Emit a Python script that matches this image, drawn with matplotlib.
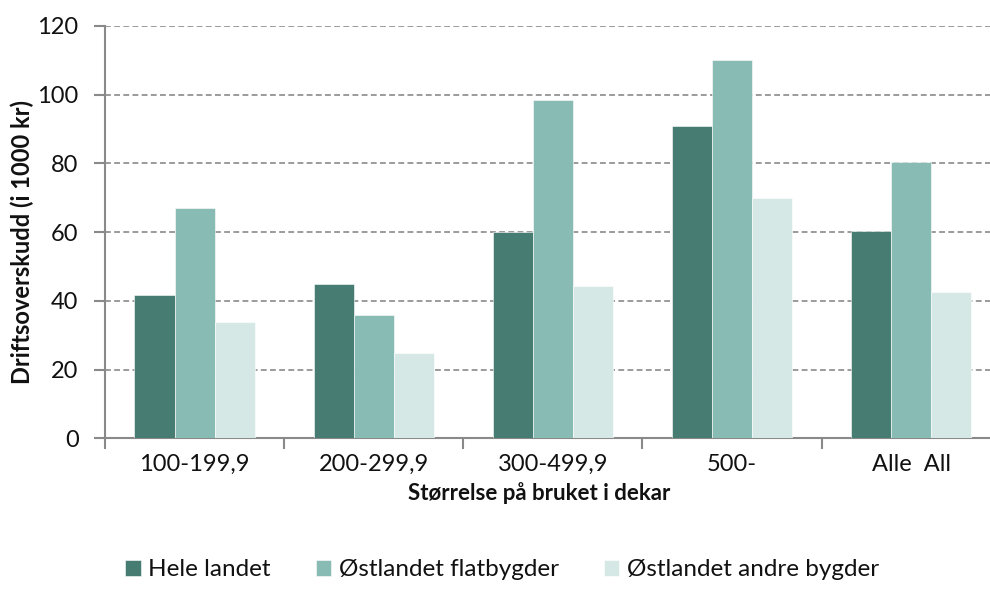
import matplotlib
matplotlib.use("Agg")
import matplotlib.pyplot as plt
import numpy as np

categories = ["100-199,9", "200-299,9", "300-499,9", "500-", "Alle  All"]
series_names = ["Hele landet", "Østlandet flatbygder", "Østlandet andre bygder"]
hele_landet = [41.8, 44.8, 60.1, 90.8, 60.3]
ostlandet_flat = [67.0, 35.9, 98.5, 110.1, 80.5]
ostlandet_andre = [33.8, 24.8, 44.2, 70.0, 42.6]
yticks = [0, 20, 40, 60, 80, 100, 120]

colors = ["#467C72", "#88BBB3", "#D5E8E5"]

plt.rcParams['font.family'] = ['Lato', 'DejaVu Sans']

fig = plt.figure(figsize=(9.9, 5.97), dpi=100)
ax = fig.add_axes([105/990, (597-438.3)/597, 895.7/990, (438.3-26)/597])

x = np.arange(len(categories))
w = 0.224
for i, (vals, name, c) in enumerate(zip([hele_landet, ostlandet_flat, ostlandet_andre], series_names, colors)):
    ax.bar(x + (i - 1) * w, vals, width=w, color=c, label=name, zorder=3,
           edgecolor='white', linewidth=0.4)

ax.set_xlim(-0.5, len(categories) - 0.5)
ax.set_ylim(0, 120)
ax.set_yticks(yticks)
ax.set_yticklabels([str(v) for v in yticks], fontsize=17, color='#111111')
ax.set_xticks(x)
ax.set_xticklabels(categories, fontsize=17, color='#111111')
ax.tick_params(axis='x', length=0, pad=11)
ax.set_xticks(np.arange(len(categories) + 1) - 0.5, minor=True)
ax.tick_params(axis='x', which='minor', length=8, width=1.5, color='#898989')
ax.tick_params(axis='y', length=8, width=1.5, color='#898989', pad=11)

ax.yaxis.grid(True, linestyle=(0, (3.5, 2)), color='#8a8a8a', linewidth=1.2, zorder=0)
ax.set_axisbelow(True)
for s in ['top', 'right']:
    ax.spines[s].set_visible(False)
for s in ['left', 'bottom']:
    ax.spines[s].set_color('#898989')
    ax.spines[s].set_linewidth(1.5)

fig.text(22/990, (597-242)/597, "Driftsoverskudd (i 1000 kr)", fontsize=17, fontweight='bold',
         ha='center', va='center', rotation=90, color='#111111')
fig.text(539/990, (597-493)/597, "Størrelse på bruket i dekar", fontsize=16, fontweight='bold',
         ha='center', va='center', color='#111111')

leg = fig.legend(loc='center', bbox_to_anchor=(502/990, (597-570)/597), ncol=3, frameon=False,
                 fontsize=17.5, handlelength=0.65, handleheight=0.65, handletextpad=0.3,
                 columnspacing=1.85)
for t in leg.get_texts():
    t.set_color('#111111')

fig.savefig("out.png", dpi=100)
